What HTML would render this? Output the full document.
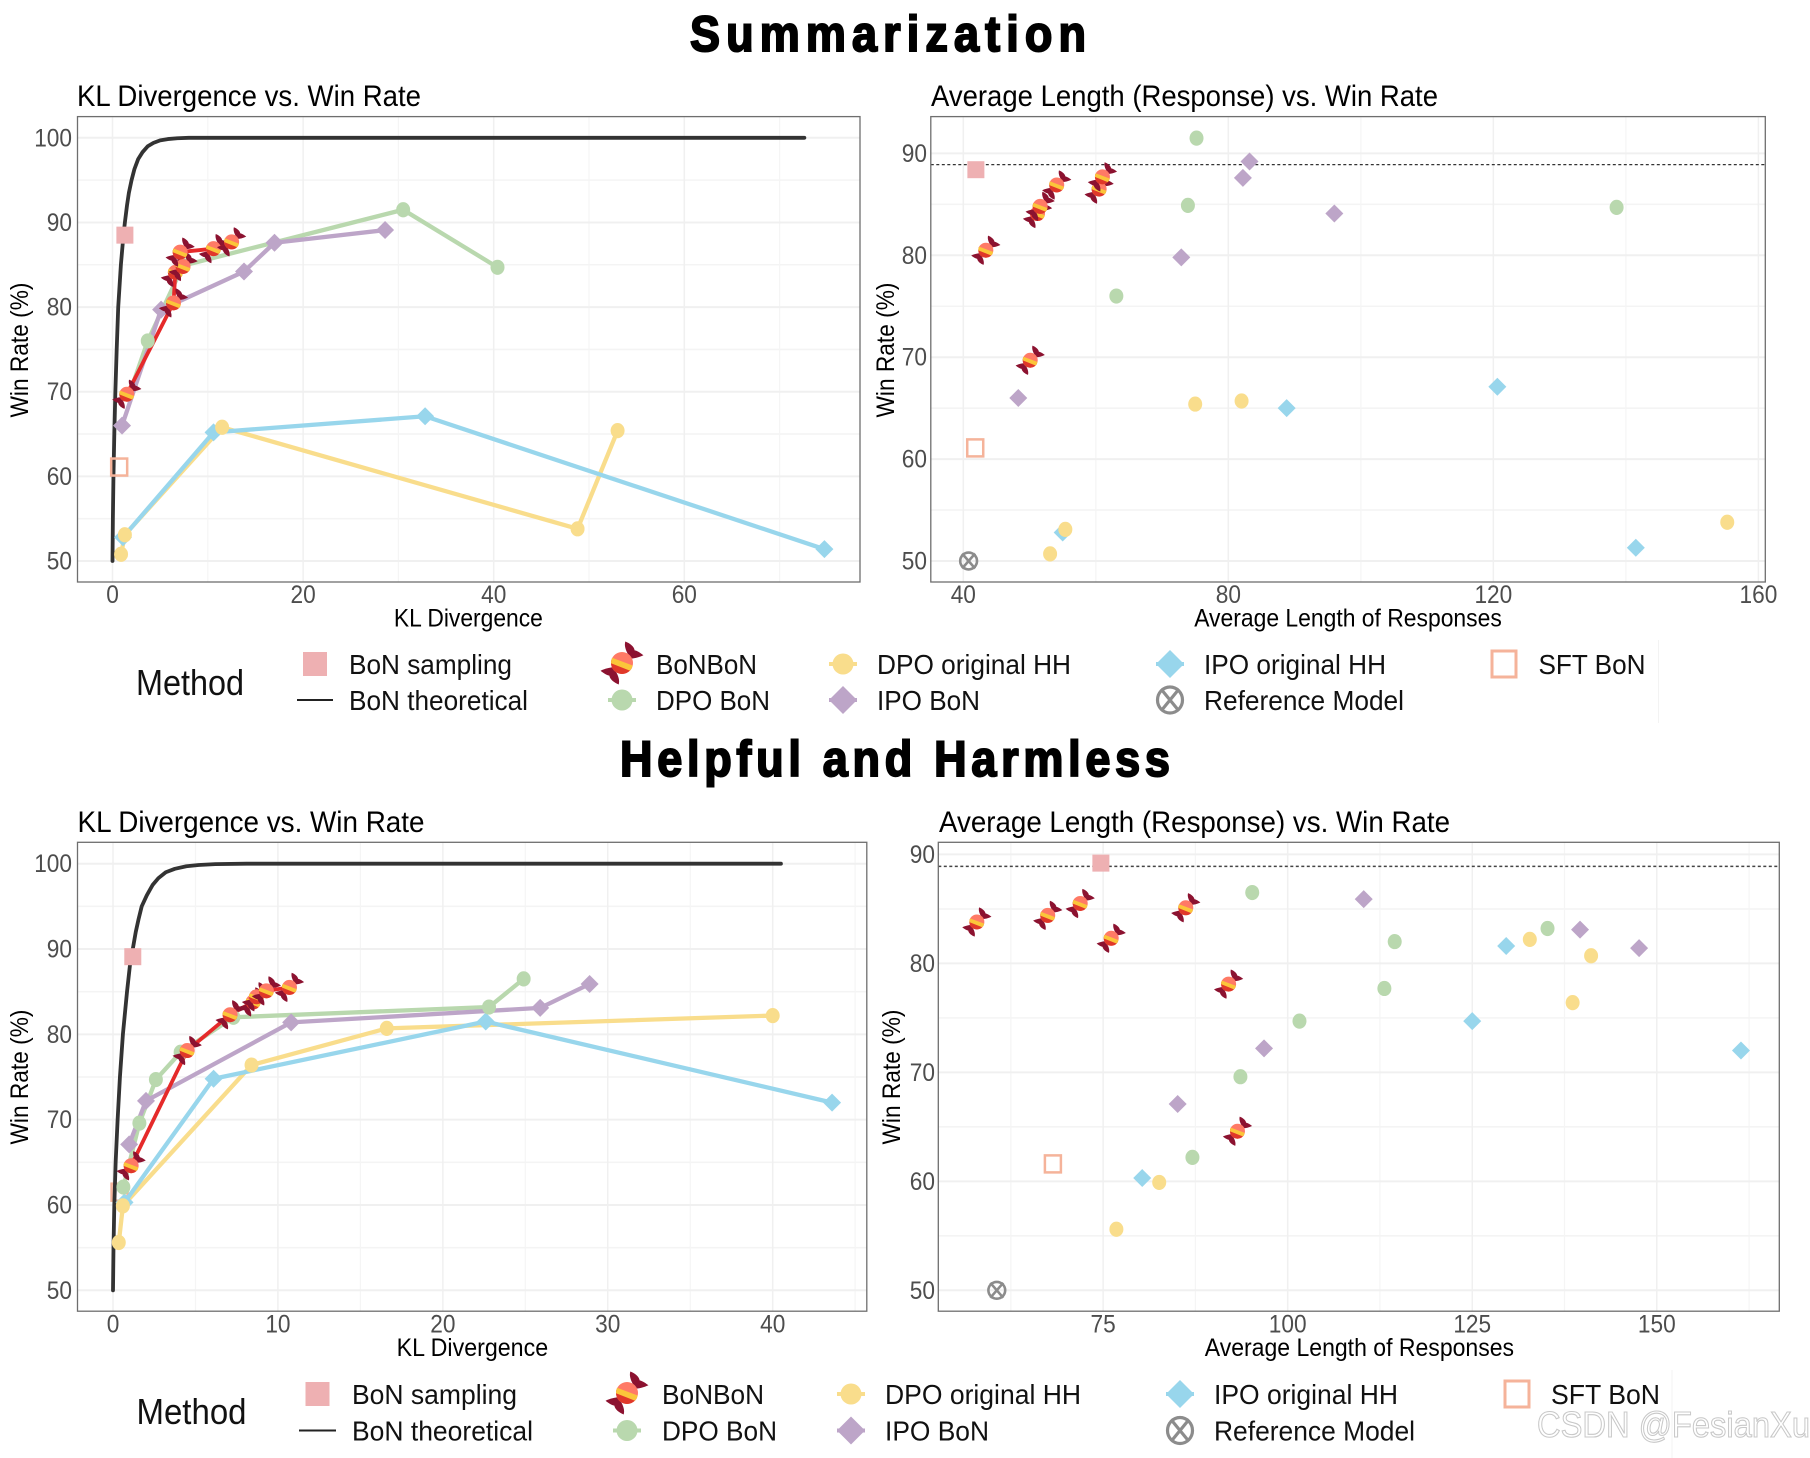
<!DOCTYPE html>
<html lang="en">
<head>
<meta charset="utf-8">
<title>Summarization and Helpful and Harmless charts</title>
<style>
html,body{margin:0;padding:0;background:#fff;}
svg{display:block;}
text{font-family:"Liberation Sans",sans-serif;}
.legend-label{font-size:28px;fill:#111;}
.method{font-size:36px;fill:#111;}
.ptitle{font-size:29.5px;fill:#000;}
.atitle{font-size:25px;fill:#000;}
.big{font-size:50px;font-weight:bold;fill:#000;stroke:#000;stroke-width:2px;}
</style>
</head>
<body>
<svg id="figure" xmlns="http://www.w3.org/2000/svg" width="1810" height="1458" viewBox="0 0 1810 1458">
<defs>
  <clipPath id="candy-clip"><circle cx="0" cy="0" r="10"/></clipPath>
  <symbol id="candy" viewBox="-20 -20 40 40" overflow="visible">
    <path d="M6 -7 C3 -12 2 -16 3 -19.5 C7 -18 11 -15 11.5 -11.5 C14 -11 17 -9 19.5 -7 C15 -5 11 -4 8 -4 Z" fill="#8c1230"/>
    <path d="M-6 7 C-3 12 -2 16 -3 19.5 C-7 18 -11 15 -11.5 11.5 C-14 11 -17 9 -19.5 7 C-15 5 -11 4 -8 4 Z" fill="#8c1230"/>
    <circle cx="0" cy="0" r="10" fill="#ff7a66"/>
    <g clip-path="url(#candy-clip)">
      <path d="M-14 -7 L14 7 L14 16 L-14 16 Z" fill="#e0382a"/>
      <path d="M-11 -5.5 L13 3.5 L11 8.5 L-13 -1 Z" fill="#fbc63a"/>
    </g>
  </symbol>
</defs>
<rect x="0" y="0" width="1810" height="1458" fill="#fff"/>

<text class="big" transform="translate(690,51) scale(.9,1)" x="0" y="0" textLength="440" lengthAdjust="spacing">Summarization</text>
<text class="big" transform="translate(620,776) scale(.9,1)" x="0" y="0" textLength="611" lengthAdjust="spacing">Helpful and Harmless</text>

<text class="ptitle" x="77" y="106" textLength="344" lengthAdjust="spacingAndGlyphs">KL Divergence vs. Win Rate</text>
<text class="ptitle" x="931" y="106" textLength="507" lengthAdjust="spacingAndGlyphs">Average Length (Response) vs. Win Rate</text>
<text class="ptitle" x="77.5" y="832" textLength="347" lengthAdjust="spacingAndGlyphs">KL Divergence vs. Win Rate</text>
<text class="ptitle" x="939" y="832" textLength="511" lengthAdjust="spacingAndGlyphs">Average Length (Response) vs. Win Rate</text>

<g id="panels"></g>

<!-- Top legend -->
<g>
  <text class="method" x="136" y="695" textLength="108" lengthAdjust="spacingAndGlyphs">Method</text>
  <rect x="303" y="652" width="24" height="24" fill="#eeb0b2"/>
  <text class="legend-label" x="349" y="674" textLength="163" lengthAdjust="spacingAndGlyphs">BoN sampling</text>
  <line x1="297" x2="333" y1="700" y2="700" stroke="#222" stroke-width="2"/>
  <text class="legend-label" x="349" y="710" textLength="179" lengthAdjust="spacingAndGlyphs">BoN theoretical</text>
  <use href="#candy" x="600" y="641" width="44" height="44"/>
  <text class="legend-label" x="656" y="674" textLength="101" lengthAdjust="spacingAndGlyphs">BoNBoN</text>
  <line x1="608" x2="636" y1="700" y2="700" stroke="#b9d8ae" stroke-width="4"/>
  <circle cx="622" cy="700" r="10.5" fill="#b9d8ae"/>
  <text class="legend-label" x="656" y="710" textLength="114" lengthAdjust="spacingAndGlyphs">DPO BoN</text>
  <line x1="829" x2="857" y1="664" y2="664" stroke="#f9dd8c" stroke-width="4"/>
  <circle cx="843" cy="664" r="10.5" fill="#f9dd8c"/>
  <text class="legend-label" x="877" y="674" textLength="194" lengthAdjust="spacingAndGlyphs">DPO original HH</text>
  <line x1="829" x2="857" y1="700" y2="700" stroke="#bda5c8" stroke-width="4"/>
  <polygon points="843,686 857,700 843,714 829,700" fill="#bda5c8"/>
  <text class="legend-label" x="877" y="710" textLength="103" lengthAdjust="spacingAndGlyphs">IPO BoN</text>
  <line x1="1156" x2="1184" y1="664" y2="664" stroke="#98d6ec" stroke-width="4"/>
  <polygon points="1170,650 1184,664 1170,678 1156,664" fill="#98d6ec"/>
  <text class="legend-label" x="1204" y="674" textLength="182" lengthAdjust="spacingAndGlyphs">IPO original HH</text>
  <g fill="none" stroke="#8c8c8c" stroke-width="3.2">
    <ellipse cx="1170" cy="700" rx="12.5" ry="13"/><path d="M1161 689 L1179 711 M1179 689 L1161 711"/>
  </g>
  <text class="legend-label" x="1204" y="710" textLength="200" lengthAdjust="spacingAndGlyphs">Reference Model</text>
  <rect x="1492" y="651" width="24" height="26" fill="none" stroke="#f5b39a" stroke-width="3"/>
  <text class="legend-label" x="1538.5" y="674" textLength="107" lengthAdjust="spacingAndGlyphs">SFT BoN</text>
  <line x1="1658.5" x2="1658.5" y1="640" y2="723" stroke="#f3f3f3" stroke-width="1"/>
</g>

<!-- Bottom legend -->
<g>
  <text class="method" x="136.5" y="1424" textLength="110" lengthAdjust="spacingAndGlyphs">Method</text>
  <rect x="305.5" y="1382" width="24" height="24" fill="#eeb0b2"/>
  <text class="legend-label" x="352" y="1404" textLength="165" lengthAdjust="spacingAndGlyphs">BoN sampling</text>
  <line x1="299" x2="336" y1="1430.5" y2="1430.5" stroke="#222" stroke-width="2"/>
  <text class="legend-label" x="352" y="1440.5" textLength="181" lengthAdjust="spacingAndGlyphs">BoN theoretical</text>
  <use href="#candy" x="605" y="1371" width="44" height="44"/>
  <text class="legend-label" x="662" y="1404" textLength="102" lengthAdjust="spacingAndGlyphs">BoNBoN</text>
  <line x1="613" x2="641" y1="1430.5" y2="1430.5" stroke="#b9d8ae" stroke-width="4"/>
  <circle cx="627" cy="1430.5" r="10.5" fill="#b9d8ae"/>
  <text class="legend-label" x="662" y="1440.5" textLength="115" lengthAdjust="spacingAndGlyphs">DPO BoN</text>
  <line x1="837" x2="865" y1="1394" y2="1394" stroke="#f9dd8c" stroke-width="4"/>
  <circle cx="851" cy="1394" r="10.5" fill="#f9dd8c"/>
  <text class="legend-label" x="885" y="1404" textLength="196" lengthAdjust="spacingAndGlyphs">DPO original HH</text>
  <line x1="837" x2="865" y1="1430.5" y2="1430.5" stroke="#bda5c8" stroke-width="4"/>
  <polygon points="851,1416.5 865,1430.5 851,1444.5 837,1430.5" fill="#bda5c8"/>
  <text class="legend-label" x="885" y="1440.5" textLength="104" lengthAdjust="spacingAndGlyphs">IPO BoN</text>
  <line x1="1166" x2="1194" y1="1394" y2="1394" stroke="#98d6ec" stroke-width="4"/>
  <polygon points="1180,1380 1194,1394 1180,1408 1166,1394" fill="#98d6ec"/>
  <text class="legend-label" x="1214" y="1404" textLength="184" lengthAdjust="spacingAndGlyphs">IPO original HH</text>
  <g fill="none" stroke="#8c8c8c" stroke-width="3.2">
    <ellipse cx="1180" cy="1430.5" rx="12.5" ry="13"/><path d="M1171 1419.5 L1189 1441.5 M1189 1419.5 L1171 1441.5"/>
  </g>
  <text class="legend-label" x="1214" y="1440.5" textLength="201" lengthAdjust="spacingAndGlyphs">Reference Model</text>
  <rect x="1505" y="1381" width="24" height="26" fill="none" stroke="#f5b39a" stroke-width="3"/>
  <text class="legend-label" x="1551" y="1404" textLength="109" lengthAdjust="spacingAndGlyphs">SFT BoN</text>
  <line x1="1672" x2="1672" y1="1370" y2="1458" stroke="#f3f3f3" stroke-width="1"/>
</g>

<text x="1537" y="1437" font-size="36" fill="#fff" stroke="#c8c8c8" stroke-width="1.1" textLength="273" lengthAdjust="spacingAndGlyphs">CSDN @FesianXu</text>

<script>
// ---------- shared ticks ----------
const yTicksKL = [50, 60, 70, 80, 90, 100];
const yMinorKL = [55, 65, 75, 85, 95];
const yTicksLen = [50, 60, 70, 80, 90];
const yMinorLen = [55, 65, 75, 85];
const topKlXTicks = [0, 20, 40, 60];
const topKlXMinor = [10, 30, 50, 70];
const topLenXTicks = [40, 80, 120, 160];
const topLenXMinor = [60, 100, 140];
const botKlXTicks = [0, 10, 20, 30, 40];
const botKlXMinor = [5, 15, 25, 35, 45];
const botLenXTicks = [75, 100, 125, 150];
const botLenXMinor = [62.5, 87.5, 112.5, 137.5, 162.5];
const bonWinRateLine = [88.9];

// ---------- Summarization : KL ----------
const topCurveX = [0, 0.04, 0.1, 0.19, 0.3, 0.44, 0.6, 0.88, 1.15, 1.3, 1.52, 1.72, 2, 2.3, 2.7, 3.15, 3.7, 4.3, 5, 5.8, 6.8, 8, 72.6];
const topCurveY = [50, 55, 60, 65, 70, 75, 80, 85, 88.5, 90, 92, 93.5, 95, 96.3, 97.5, 98.3, 99, 99.4, 99.7, 99.85, 99.95, 100, 100];
const topKlBonbonX = [1.5, 6.4, 6.6, 7.4, 7.1, 10.6, 12.5];
const topKlBonbonY = [69.7, 80.5, 84.1, 84.8, 86.5, 86.9, 87.7];
const topKlGreenX = [1.7, 3.7, 7.4, 30.5, 40.4];
const topKlGreenY = [69.5, 76, 84.9, 91.5, 84.7];
const topKlPurpleX = [1.0, 5.1, 13.8, 17, 28.6];
const topKlPurpleY = [66, 79.7, 84.2, 87.6, 89.1];
const topKlYellowX = [0.9, 1.3, 11.5, 48.8, 53];
const topKlYellowY = [50.8, 53.1, 65.8, 53.8, 65.4];
const topKlBlueX = [1.1, 10.6, 32.8, 74.7];
const topKlBlueY = [52.8, 65.2, 67.1, 51.4];
const topKlSampling = [1.3, 88.5];
const topKlSft = [0.7, 61.1];

// ---------- Summarization : length ----------
const topLenBonbonX = [43.4, 50.1, 51.2, 51.6, 54.1, 60.5, 61];
const topLenBonbonY = [80.5, 69.7, 84.1, 84.8, 86.9, 86.5, 87.7];
const topLenGreenX = [75.2, 73.9, 63.1, 138.6];
const topLenGreenY = [91.5, 84.9, 76, 84.7];
const topLenPurpleX = [48.3, 72.9, 82.2, 83.2, 96];
const topLenPurpleY = [66, 79.8, 87.6, 89.2, 84.1];
const topLenYellowX = [75, 82, 55.4, 53.1, 155.3];
const topLenYellowY = [65.4, 65.7, 53.1, 50.7, 53.8];
const topLenBlueX = [88.8, 120.6, 55, 141.5];
const topLenBlueY = [65, 67.1, 52.8, 51.3];
const topLenSampling = [41.9, 88.4];
const topLenSft = [41.8, 61.1];
const topLenReference = [40.8, 50];

// ---------- Helpful and Harmless : KL ----------
const botCurveX = [0, 0.03, 0.08, 0.16, 0.28, 0.42, 0.6, 0.85, 1.05, 1.2, 1.38, 1.55, 1.74, 2.05, 2.4, 2.75, 3.2, 3.75, 4.45, 5.2, 6.2, 8.1, 40.5];
const botCurveY = [50, 55, 60, 65, 70, 75, 80, 85, 88.5, 90, 92, 93.5, 95, 96.3, 97.5, 98.3, 99, 99.4, 99.7, 99.85, 99.95, 100, 100];
const botKlBonbonX = [1.1, 4.5, 7.1, 8.5, 8.7, 9.3, 10.7];
const botKlBonbonY = [64.6, 78.1, 82.3, 83.8, 84.4, 85.1, 85.5];
const botKlGreenX = [0.63, 1.6, 2.6, 4.1, 7.3, 22.8, 24.9];
const botKlGreenY = [62.1, 69.6, 74.7, 77.9, 82, 83.2, 86.5];
const botKlPurpleX = [0.98, 2, 10.8, 25.9, 28.9];
const botKlPurpleY = [67.1, 72.2, 81.4, 83.1, 85.9];
const botKlYellowX = [0.35, 0.6, 8.4, 16.6, 40];
const botKlYellowY = [55.6, 59.9, 76.4, 80.7, 82.2];
const botKlBlueX = [0.7, 6.1, 22.6, 43.6];
const botKlBlueY = [60.3, 74.8, 81.5, 72];
const botKlSampling = [1.2, 89.1];
const botKlSft = [0.4, 61.5];

// ---------- Helpful and Harmless : length ----------
const botLenBonbonX = [93.2, 92, 76.1, 57.9, 67.5, 86.2, 71.9];
const botLenBonbonY = [64.6, 78.1, 82.3, 83.8, 84.4, 85.1, 85.5];
const botLenGreenX = [87.1, 93.6, 101.6, 113.1, 114.5, 135.2, 95.2];
const botLenGreenY = [62.2, 69.6, 74.7, 77.7, 82, 83.2, 86.5];
const botLenPurpleX = [85.1, 96.8, 147.6, 139.6, 110.3];
const botLenPurpleY = [67.1, 72.2, 81.4, 83.1, 85.9];
const botLenYellowX = [76.8, 82.6, 138.6, 141.1, 132.8];
const botLenYellowY = [55.6, 59.9, 76.4, 80.7, 82.2];
const botLenBlueX = [80.3, 125, 129.6, 161.4];
const botLenBlueY = [60.3, 74.7, 81.6, 72];
const botLenSampling = [74.7, 89.2];
const botLenSft = [68.2, 61.6];
const botLenReference = [60.6, 50];

// ---------- drawing ----------
const NS = 'http://www.w3.org/2000/svg';
const GREEN = '#b9d8ae', PURPLE = '#bda5c8', YELLOW = '#f9dd8c', BLUE = '#98d6ec';
const LINE_W = 4.3, CURVE_W = 3.8, RED_W = 3.8, DOT_RX = 7, DOT_RY = 7.6, DIA_R = 9, CANDY = 30;

function mk(parent, tag, attrs, txt) {
  const el = document.createElementNS(NS, tag);
  for (const k in attrs) el.setAttribute(k, attrs[k]);
  if (txt !== undefined) el.textContent = txt;
  parent.appendChild(el);
  return el;
}
function linear(d0, r0, d1, r1) {
  return function (v) { return r0 + (v - d0) * (r1 - r0) / (d1 - d0); };
}
function pts(xs, ys, sx, sy) {
  return xs.map(function (x, i) { return sx(x).toFixed(2) + ',' + sy(ys[i]).toFixed(2); }).join(' ');
}
function series(g, name, xs, ys, sx, sy, color, width) {
  const el = mk(g, 'polyline', {points: pts(xs, ys, sx, sy), fill: 'none', stroke: color, 'stroke-width': width, 'stroke-linejoin': 'round', 'stroke-linecap': 'round'});
  
  
}
function circles(g, name, xs, ys, sx, sy, color) {
  xs.forEach(function (x, i) {
    const el = mk(g, 'ellipse', {cx: sx(x), cy: sy(ys[i]), rx: DOT_RX, ry: DOT_RY, fill: color});
    
    
  });
}
function diamonds(g, name, xs, ys, sx, sy, color) {
  const r = DIA_R;
  xs.forEach(function (x, i) {
    const cx = sx(x), cy = sy(ys[i]);
    const el = mk(g, 'polygon', {points: (cx) + ',' + (cy - r) + ' ' + (cx + r) + ',' + cy + ' ' + cx + ',' + (cy + r) + ' ' + (cx - r) + ',' + cy, fill: color});
    
    
  });
}
function candies(g, xs, ys, sx, sy) {
  const size = CANDY;
  xs.forEach(function (x, i) {
    const el = mk(g, 'use', {href: '#candy', x: sx(x) - size / 2, y: sy(ys[i]) - size / 2, width: size, height: size});
    
    
  });
}
function squareMark(g, p, sx, sy) {
  const el = mk(g, 'rect', {x: sx(p[0]) - 8.5, y: sy(p[1]) - 8.5, width: 17, height: 17, fill: '#eeb0b2'});
  
  
}
function sftMark(g, p, sx, sy) {
  const el = mk(g, 'rect', {x: sx(p[0]) - 8, y: sy(p[1]) - 8.5, width: 16, height: 17, fill: 'none', stroke: '#f5b39a', 'stroke-width': 2.5});
  
  
}
function refMark(g, p, sx, sy) {
  const cx = sx(p[0]), cy = sy(p[1]);
  const wrap = mk(g, 'g', {fill: 'none', stroke: '#8c8c8c', 'stroke-width': 2.6});
  
  
  mk(wrap, 'circle', {cx: cx, cy: cy, r: 8.4});
  mk(wrap, 'path', {d: 'M' + (cx - 6.5) + ' ' + (cy - 7.5) + ' L' + (cx + 6.5) + ' ' + (cy + 7.5) + ' M' + (cx + 6.5) + ' ' + (cy - 7.5) + ' L' + (cx - 6.5) + ' ' + (cy + 7.5)});
}

function drawFrame(name, box, sx, sy, xt, xm, yt, ym, opt) {
  const root = document.getElementById('panels');
  const g = mk(root, 'g', {});
  
  
  ym.forEach(function (v) { const el = mk(g, 'line', {x1: box.l, x2: box.r, y1: sy(v), y2: sy(v), stroke: '#f4f4f4', 'stroke-width': 1.6});   });
  xm.forEach(function (v) { const el = mk(g, 'line', {x1: sx(v), x2: sx(v), y1: box.t, y2: box.b, stroke: '#f5f5f5', 'stroke-width': 1.2});   });
  yt.forEach(function (v) { const el = mk(g, 'line', {x1: box.l, x2: box.r, y1: sy(v), y2: sy(v), stroke: '#f0f0f0', 'stroke-width': 2});   });
  xt.forEach(function (v) { const el = mk(g, 'line', {x1: sx(v), x2: sx(v), y1: box.t, y2: box.b, stroke: '#f0f0f0', 'stroke-width': 1.5});   });
  yt.forEach(function (v) {
    const t = mk(g, 'text', {x: opt.yTickX, y: sy(v) + 8.5, 'text-anchor': 'end', 'font-size': 25, fill: '#4d4d4d', textLength: String(v).length * 12.6, lengthAdjust: 'spacingAndGlyphs'}, String(v));
    
    
  });
  xt.forEach(function (v) {
    const t = mk(g, 'text', {x: sx(v), y: opt.xTickY, 'text-anchor': 'middle', 'font-size': 25, fill: '#4d4d4d', textLength: String(v).length * 12.6, lengthAdjust: 'spacingAndGlyphs'}, String(v));
    
    
  });
  const xa = mk(g, 'text', {x: opt.xTitleX - opt.xTitleW / 2, y: opt.xTitleY, class: 'atitle', textLength: opt.xTitleW, lengthAdjust: 'spacingAndGlyphs'}, opt.xTitle);
  
  
  const ya = mk(g, 'text', {x: -67.5, y: 0, class: 'atitle', textLength: 135, lengthAdjust: 'spacingAndGlyphs', transform: 'translate(' + opt.yTitleX + ',' + opt.yTitleY + ') rotate(-90)'}, 'Win Rate (%)');
  
  
  const marks = mk(g, 'g', {});
  
  
  return {g: g, marks: marks};
}
function border(g, box) {
  const el = mk(g, 'rect', {x: box.l, y: box.t, width: box.r - box.l, height: box.b - box.t, fill: 'none', stroke: '#6e6e6e', 'stroke-width': 1.3});
  
  
}

// Panel: Summarization KL
(function () {
  const box = {l: 77.5, r: 860, t: 116.6, b: 582};
  const sx = linear(0, 112.5, 60, 684.3), sy = linear(50, 561, 100, 137.8);
  const f = drawFrame('summarization-kl-panel', box, sx, sy, topKlXTicks, topKlXMinor, yTicksKL, yMinorKL,
    {yTickX: 72, xTickY: 603, xTitle: 'KL Divergence', xTitleX: 468.4, xTitleW: 149, xTitleY: 626.5, yTitleX: 28, yTitleY: 350});
  const m = f.marks;
  series(m, 'dpo-original-line', topKlYellowX, topKlYellowY, sx, sy, YELLOW, LINE_W);
  series(m, 'ipo-original-line', topKlBlueX, topKlBlueY, sx, sy, BLUE, LINE_W);
  series(m, 'dpo-bon-line', topKlGreenX, topKlGreenY, sx, sy, GREEN, LINE_W);
  series(m, 'ipo-bon-line', topKlPurpleX, topKlPurpleY, sx, sy, PURPLE, LINE_W);
  series(m, 'bon-theoretical-curve', topCurveX, topCurveY, sx, sy, '#333333', CURVE_W);
  series(m, 'bonbon-line', topKlBonbonX, topKlBonbonY, sx, sy, '#e52a2a', RED_W);
  sftMark(m, topKlSft, sx, sy);
  circles(m, 'dpo-bon', topKlGreenX.slice(1), topKlGreenY.slice(1), sx, sy, GREEN);
  diamonds(m, 'ipo-bon', topKlPurpleX, topKlPurpleY, sx, sy, PURPLE);
  diamonds(m, 'ipo-original', topKlBlueX, topKlBlueY, sx, sy, BLUE);
  circles(m, 'dpo-original', topKlYellowX, topKlYellowY, sx, sy, YELLOW);
  squareMark(m, topKlSampling, sx, sy);
  candies(m, topKlBonbonX, topKlBonbonY, sx, sy);
  border(f.g, box);
})();

// Panel: Summarization length
(function () {
  const box = {l: 930.8, r: 1765.3, t: 116.6, b: 582};
  const sx = linear(40, 963.3, 160, 1758.4), sy = linear(50, 561, 90, 153.4);
  const f = drawFrame('summarization-length-panel', box, sx, sy, topLenXTicks, topLenXMinor, yTicksLen, yMinorLen,
    {yTickX: 927, xTickY: 603, xTitle: 'Average Length of Responses', xTitleX: 1348, xTitleW: 307.6, xTitleY: 626.5, yTitleX: 894, yTitleY: 350});
  const m = f.marks;
  bonWinRateLine.forEach(function (v) {
    const el = mk(m, 'line', {x1: box.l, x2: box.r, y1: sy(v), y2: sy(v), stroke: '#333', 'stroke-width': 1.3, 'stroke-dasharray': '3 2.5'});
    
    
  });
  refMark(m, topLenReference, sx, sy);
  sftMark(m, topLenSft, sx, sy);
  circles(m, 'dpo-bon', topLenGreenX, topLenGreenY, sx, sy, GREEN);
  diamonds(m, 'ipo-bon', topLenPurpleX, topLenPurpleY, sx, sy, PURPLE);
  diamonds(m, 'ipo-original', topLenBlueX, topLenBlueY, sx, sy, BLUE);
  circles(m, 'dpo-original', topLenYellowX, topLenYellowY, sx, sy, YELLOW);
  squareMark(m, topLenSampling, sx, sy);
  candies(m, topLenBonbonX, topLenBonbonY, sx, sy);
  border(f.g, box);
})();

// Panel: Helpful KL
(function () {
  const box = {l: 77.5, r: 866.8, t: 842.3, b: 1311.2};
  const sx = linear(0, 113, 40, 772.7), sy = linear(50, 1290.3, 100, 863.7);
  const f = drawFrame('helpful-harmless-kl-panel', box, sx, sy, botKlXTicks, botKlXMinor, yTicksKL, yMinorKL,
    {yTickX: 72, xTickY: 1332.5, xTitle: 'KL Divergence', xTitleX: 472.4, xTitleW: 151.5, xTitleY: 1356, yTitleX: 28, yTitleY: 1077});
  const m = f.marks;
  sftMark(m, botKlSft, sx, sy);
  series(m, 'dpo-original-line', botKlYellowX, botKlYellowY, sx, sy, YELLOW, LINE_W);
  series(m, 'ipo-original-line', botKlBlueX, botKlBlueY, sx, sy, BLUE, LINE_W);
  series(m, 'dpo-bon-line', botKlGreenX, botKlGreenY, sx, sy, GREEN, LINE_W);
  series(m, 'ipo-bon-line', botKlPurpleX, botKlPurpleY, sx, sy, PURPLE, LINE_W);
  series(m, 'bon-theoretical-curve', botCurveX, botCurveY, sx, sy, '#333333', CURVE_W);
  series(m, 'bonbon-line', botKlBonbonX, botKlBonbonY, sx, sy, '#e52a2a', RED_W);
  diamonds(m, 'ipo-original', botKlBlueX, botKlBlueY, sx, sy, BLUE);
  circles(m, 'dpo-bon', botKlGreenX, botKlGreenY, sx, sy, GREEN);
  diamonds(m, 'ipo-bon', botKlPurpleX, botKlPurpleY, sx, sy, PURPLE);
  circles(m, 'dpo-original', botKlYellowX, botKlYellowY, sx, sy, YELLOW);
  squareMark(m, botKlSampling, sx, sy);
  candies(m, botKlBonbonX, botKlBonbonY, sx, sy);
  border(f.g, box);
})();

// Panel: Helpful length
(function () {
  const box = {l: 938.3, r: 1779.3, t: 842.3, b: 1311.2};
  const sx = linear(75, 1103.1, 150, 1656.8), sy = linear(50, 1290.3, 90, 854.4);
  const f = drawFrame('helpful-harmless-length-panel', box, sx, sy, botLenXTicks, botLenXMinor, yTicksLen, yMinorLen,
    {yTickX: 935, xTickY: 1332.5, xTitle: 'Average Length of Responses', xTitleX: 1359.4, xTitleW: 309.3, xTitleY: 1356, yTitleX: 900, yTitleY: 1077});
  const m = f.marks;
  bonWinRateLine.forEach(function (v) {
    const el = mk(m, 'line', {x1: box.l, x2: box.r, y1: sy(v), y2: sy(v), stroke: '#444', 'stroke-width': 1.5, 'stroke-dasharray': '3 2.5'});
    
    
  });
  refMark(m, botLenReference, sx, sy);
  sftMark(m, botLenSft, sx, sy);
  circles(m, 'dpo-bon', botLenGreenX, botLenGreenY, sx, sy, GREEN);
  diamonds(m, 'ipo-bon', botLenPurpleX, botLenPurpleY, sx, sy, PURPLE);
  diamonds(m, 'ipo-original', botLenBlueX, botLenBlueY, sx, sy, BLUE);
  circles(m, 'dpo-original', botLenYellowX, botLenYellowY, sx, sy, YELLOW);
  squareMark(m, botLenSampling, sx, sy);
  candies(m, botLenBonbonX, botLenBonbonY, sx, sy);
  border(f.g, box);
})();
</script>
</svg>
</body>
</html>
